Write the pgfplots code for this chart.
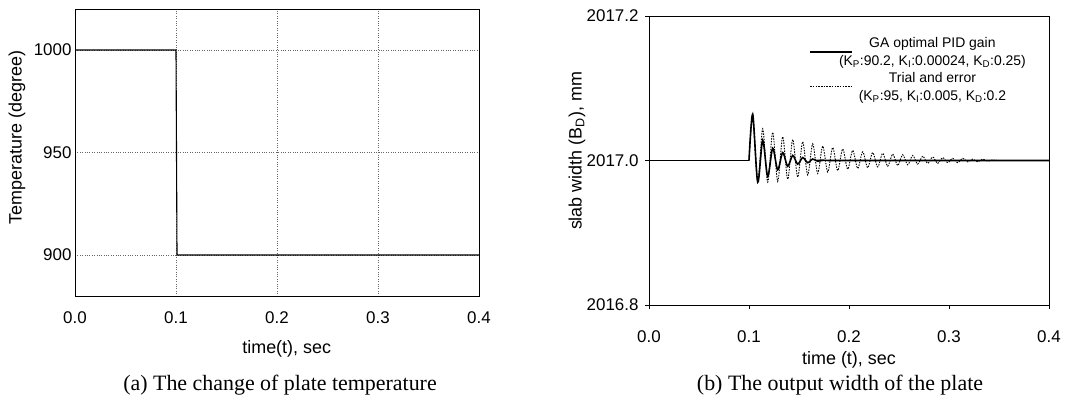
\documentclass[border=0pt]{standalone}
\usepackage{fontspec}
\setmainfont{Liberation Sans}
\newfontfamily\capfont{Liberation Serif}
\usepackage{pgfplots}
\pgfplotsset{compat=1.18}
\begin{document}
\begin{tikzpicture}
\useasboundingbox (0,0) rectangle (1080bp,398bp);
\pgfplotsset{
  every axis/.append style={
    scale only axis, anchor=south west,
    /pgf/number format/assume math mode=true,
    tick label style={font=\fontsize{17}{20}\selectfont},
    label style={font=\fontsize{18}{21}\selectfont},
    axis line style={line width=0.8bp},
    tick style={black, line width=0.6bp},
    xmin=0, xmax=0.4, xtick={0,0.1,0.2,0.3,0.4},
    xticklabel style={/pgf/number format/fixed, /pgf/number format/fixed zerofill, /pgf/number format/precision=1},
  }
}
% (a) plate temperature
\begin{axis}[
  at={(75bp,102bp)}, width=404bp, height=287bp,
  ymin=880, ymax=1020, ytick={900,950,1000},
  yticklabel style={/pgf/number format/1000 sep={}},
  xticklabel style={anchor=center, yshift=-22bp},
  major tick length=0pt,
  grid=major, major grid style={dotted, gray!80!black, line width=0.7bp},
  xlabel={time(t), sec}, ylabel={Temperature (degree)},
  xlabel style={at={(axis description cs:0.524,-0.185)}, anchor=center},
  ylabel style={at={(axis description cs:-0.1436,0.552)}, anchor=center},
]
\addplot[black, line width=1.1bp] coordinates {(0,1000) (0.1,1000) (0.101,900) (0.4,900)};
\end{axis}
% (b) output width (values plotted as deviation from 2017.0 mm)
\begin{axis}[
  at={(649bp,93bp)}, width=400bp, height=289bp,
  ymin=-0.2, ymax=0.2, ytick={-0.2,0,0.2}, yticklabels={2016.8,2017.0,2017.2},
  yticklabel style={xshift=-3bp},
  xticklabel style={anchor=center, yshift=-28bp},
  tick align=outside, major tick length=4bp, tick pos=left,
  xlabel={time (t), sec}, ylabel={slab width (B\textsubscript{D}), mm},
  xlabel style={at={(axis description cs:0.5,-0.19)}, anchor=center},
  ylabel style={at={(axis description cs:-0.18,0.533)}, anchor=center},
  legend style={at={(axis description cs:0.955,0.94)}, anchor=north east, draw=none, fill=none,
    font=\fontsize{14}{18}\selectfont, cells={align=center}, row sep=1bp,
    /tikz/every odd column/.append style={column sep=-16bp}},
  legend image code/.code={\draw[#1] (0bp,0bp) -- (42bp,0bp);},
]
\addplot[black, line width=1.6bp, forget plot] coordinates {(0,0) (0.1,0)};
\addplot[black, line width=1.6bp, smooth, tension=0.5] coordinates {
 (0.1,0) (0.1037,0.064) (0.1087,-0.030) (0.1137,0.028) (0.1187,-0.022) (0.1237,0.017)
 (0.1287,-0.013) (0.1337,0.011) (0.1387,-0.008) (0.1437,0.007) (0.1487,-0.005)
 (0.1537,0.004) (0.1587,-0.003) (0.1637,0.002) (0.1687,-0.001) (0.175,0.0005) (0.19,0) (0.4,0)};
\addlegendentry{GA optimal PID gain\\(K\textsubscript{P}:90.2, K\textsubscript{I}:0.00024, K\textsubscript{D}:0.25)}
\addplot[black, line width=0.9bp, dash pattern=on 1.5bp off 1.2bp, smooth, tension=0.5] coordinates {
 (0.1,0) (0.1037,0.060) (0.1087,-0.030) (0.1137,0.044) (0.1187,-0.030) (0.1237,0.039)
 (0.1287,-0.029) (0.1337,0.033) (0.1387,-0.026) (0.1437,0.029) (0.1487,-0.023)
 (0.1537,0.026) (0.1587,-0.020) (0.1637,0.023) (0.1687,-0.018) (0.1737,0.020)
 (0.1787,-0.016) (0.1837,0.018) (0.1887,-0.014) (0.1937,0.016) (0.1987,-0.012)
 (0.2037,0.014) (0.2087,-0.011) (0.2137,0.012) (0.2187,-0.010) (0.2237,0.011)
 (0.2287,-0.009) (0.2337,0.010) (0.2387,-0.008) (0.2437,0.009) (0.2487,-0.007)
 (0.2537,0.008) (0.2587,-0.006) (0.2637,0.007) (0.2687,-0.005) (0.2737,0.006)
 (0.2787,-0.004) (0.2837,0.005) (0.2887,-0.004) (0.2937,0.004) (0.2987,-0.003)
 (0.3037,0.003) (0.3087,-0.003) (0.3137,0.003) (0.3187,-0.002) (0.3237,0.002)
 (0.3287,-0.002) (0.3337,0.002) (0.3387,-0.001) (0.3437,0.001) (0.35,0) (0.4,0)};
\addlegendentry{Trial and error\\(K\textsubscript{P}:95, K\textsubscript{I}:0.005, K\textsubscript{D}:0.2}
\end{axis}
\node[font=\capfont\fontsize{22}{26}\selectfont, anchor=base] at (280bp,8bp) {(a) The change of plate temperature};
\node[font=\capfont\fontsize{22}{26}\selectfont, anchor=base] at (840bp,8bp) {(b) The output width of the plate};
\end{tikzpicture}
\end{document}
